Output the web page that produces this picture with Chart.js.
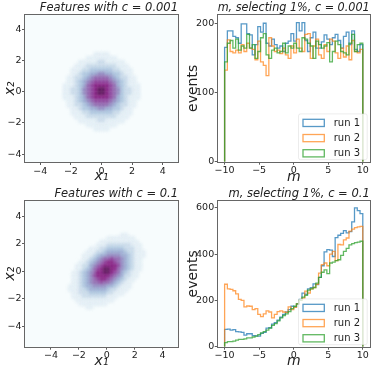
<!DOCTYPE html>
<html>
<head>
<meta charset="utf-8">
<script src="https://cdn.jsdelivr.net/npm/chart.js@4.4.1/dist/chart.umd.min.js"></script>
<style>
  html, body { margin: 0; padding: 0; background: #fff; }
  #wrap { position: relative; width: 374px; height: 373px; overflow: hidden; }
  .panel { position: absolute; }
</style>
</head>
<body>
<div id="wrap">
  <canvas class="panel" id="featLowChart" width="187" height="186" style="left:0;top:0"></canvas>
  <canvas class="panel" id="mLowChart" width="187" height="186" style="left:187px;top:0"></canvas>
  <canvas class="panel" id="featHighChart" width="187" height="187" style="left:0;top:186px"></canvas>
  <canvas class="panel" id="mHighChart" width="187" height="187" style="left:187px;top:186px"></canvas>
</div>
<script>
'use strict';

//***********data***********
const runLabels = ['run 1', 'run 2', 'run 3'];

// m histograms: 50 bins of 0.4 from -10 to 10
const mBinStart = -10;
const mBinWidth = 0.4;
const lowRun1 = [166, 190, 190, 182, 180, 172, 200, 200, 186, 184, 155, 170, 196, 188, 201, 172, 168, 178, 170, 165,
  168, 160, 172, 175, 186, 175, 202, 190, 202, 176, 160, 180, 188, 165, 165, 174, 184, 178, 170, 180,
  185, 176, 165, 182, 188, 170, 190, 163, 160, 170];
const lowRun2 = [133, 177, 160, 158, 162, 158, 170, 160, 172, 165, 163, 148, 175, 145, 140, 125, 180, 168, 160, 162,
  157, 165, 155, 150, 168, 158, 178, 165, 160, 185, 186, 150, 168, 178, 155, 150, 170, 160, 178, 175,
  158, 150, 165, 152, 168, 148, 176, 160, 158, 163];
const lowRun3 = [145, 172, 176, 165, 178, 162, 168, 165, 185, 165, 170, 150, 160, 180, 186, 155, 150, 162, 165, 158,
  160, 172, 158, 168, 165, 172, 165, 160, 180, 178, 172, 168, 150, 175, 170, 165, 168, 173, 145, 160,
  175, 170, 160, 158, 155, 172, 185, 160, 170, 172];
const highRun1 = [75, 76, 72, 74, 65, 64, 62, 50, 56, 56, 48, 47, 46, 58, 62, 80, 82, 98, 104, 115,
  128, 140, 150, 160, 175, 172, 185, 205, 232, 226, 250, 255, 272, 268, 300, 350, 410, 420, 418, 390,
  472, 482, 490, 502, 492, 498, 540, 600, 588, 575];
const highRun2 = [270, 250, 248, 242, 228, 205, 200, 172, 176, 175, 160, 165, 140, 130, 142, 155, 150, 125, 140, 152,
  155, 150, 148, 172, 160, 170, 185, 200, 210, 240, 232, 250, 256, 270, 318, 355, 362, 350, 400, 412,
  372, 442, 440, 462, 470, 500, 508, 515, 518, 520];
const highRun3 = [18, 22, 22, 24, 28, 32, 32, 34, 38, 38, 42, 46, 52, 60, 65, 72, 80, 92, 100, 112,
  125, 135, 142, 152, 165, 175, 185, 200, 214, 222, 245, 250, 256, 275, 300, 322, 332, 316, 362, 366,
  372, 376, 395, 412, 425, 440, 446, 450, 452, 456];

// tick labels
const featTicks = [-4, -2, 0, 2, 4];
const mTicks = [-10, -5, 0, 5, 10];
const lowCountTicks = [0, 100, 200];
const highCountTicks = [0, 200, 400, 600];

// feature densities: cells of 0.25 from -3 to 3 (top row first), shade level 0..9
const cellStart = -3;
const cellSize = 0.25;
const featLow = [
  '000000000000000000000000',
  '000000000000000000000000',
  '000000000011110000000000',
  '000000001111111100000000',
  '000000111112211111000000',
  '000001112222222211100000',
  '000011122333333221110000',
  '000011233445544332110000',
  '000112234566665432211000',
  '000112345677776543211000',
  '001112346788887643211100',
  '001122356789987653221100',
  '001122356789987653221100',
  '001112346788887643211100',
  '000112345677776543211000',
  '000112234566665432211000',
  '000011233445544332110000',
  '000011122333333221110000',
  '000001112222222211100000',
  '000000111112211111000000',
  '000000001111111100000000',
  '000000000011110000000000',
  '000000000000000000000000',
  '000000000000000000000000'
];
const featHigh = [
  '000000000000000000000000',
  '000000000000000011000000',
  '000000000000111111110000',
  '000000000011111111111000',
  '000000000111222222211100',
  '000000011122333332221100',
  '000000111223444443221110',
  '000001112344555544321110',
  '000001123456676654321100',
  '000011234567887654321100',
  '000112245678888754321100',
  '000112346789988654321100',
  '001123456889987643211000',
  '001123457888876542211000',
  '001123456788765432110000',
  '001123456676654321100000',
  '011123445555443211100000',
  '011122344444322111000000',
  '001122233333221110000000',
  '001112222222111000000000',
  '000111111111110000000000',
  '000011111111000000000000',
  '000000110000000000000000',
  '000000000000000000000000'
];

//***********styling***********
const fontFamily = '"DejaVu Sans", sans-serif';
const inkColor = '#222';
const runColors = ['rgba(31,119,180,0.75)', 'rgba(255,127,14,0.7)', 'rgba(44,160,44,0.75)'];
const bupu = ['#f7fcfd', '#e0ecf4', '#bfd3e6', '#9ebcda', '#8c96c6', '#8c6bb1', '#88419d', '#810f7c', '#4d004b'];

function hexToRgb(h) {
  return [1, 3, 5].map(i => parseInt(h.substr(i, 2), 16));
}

// BuPu colour map, t from 0 to 1
function shade(t) {
  const pos = Math.max(0, Math.min(1, t)) * 8;
  const i = Math.min(7, Math.floor(pos));
  const f = pos - i;
  const a = hexToRgb(bupu[i]);
  const b = hexToRgb(bupu[i + 1]);
  const c = a.map((v, k) => Math.round(v + (b[k] - v) * f));
  return 'rgb(' + c.join(',') + ')';
}

function fmtTick(v) {
  return v < 0 ? '\u2212' + Math.abs(v) : String(v);
}

// outline of a step histogram
function stepPoints(counts) {
  const pts = [{x: mBinStart, y: 0}];
  counts.forEach((c, i) => {
    pts.push({x: mBinStart + i * mBinWidth, y: c});
    pts.push({x: mBinStart + (i + 1) * mBinWidth, y: c});
  });
  pts.push({x: mBinStart + counts.length * mBinWidth, y: 0});
  return pts;
}

function cellPoints(rows) {
  const pts = [];
  rows.forEach((row, r) => {
    for (let j = 0; j < row.length; j++) {
      const v = Number(row[j]);
      if (v > 0) {
        pts.push({x: cellStart + (j + 0.5) * cellSize, y: -cellStart - (r + 0.5) * cellSize, v: v});
      }
    }
  });
  return pts;
}

// plot background + spines
const framePlugin = {
  id: 'frame',
  beforeDatasetsDraw(chart, args, opts) {
    if (!opts.fill) return;
    const a = chart.chartArea;
    chart.ctx.save();
    chart.ctx.fillStyle = opts.fill;
    chart.ctx.fillRect(a.left, a.top, a.right - a.left, a.bottom - a.top);
    chart.ctx.restore();
  },
  // soften the cell edges a little, like the fine binning of the original
  beforeDatasetDraw(chart, args, opts) {
    if (opts.blur) chart.ctx.filter = 'blur(' + opts.blur + 'px)';
  },
  afterDatasetDraw(chart, args, opts) {
    chart.ctx.filter = 'none';
  },
  afterDatasetsDraw(chart) {
    const a = chart.chartArea;
    const ctx = chart.ctx;
    ctx.save();
    ctx.strokeStyle = '#666';
    ctx.lineWidth = 1;
    ctx.strokeRect(Math.round(a.left) - 0.5, Math.round(a.top) - 0.5, Math.round(a.right - a.left) + 1, Math.round(a.bottom - a.top) + 1);
    ctx.restore();
  }
};

// legend in the lower right corner, drawn over the lines
const runLegendPlugin = {
  id: 'runLegend',
  afterDatasetsDraw(chart, args, opts) {
    if (!opts.show) return;
    const a = chart.chartArea;
    const ctx = chart.ctx;
    const rowGap = 15.2;
    const boxLeft = a.right - 66.7;
    const lastY = a.bottom - 8.4;
    const n = runLabels.length;
    const top = lastY - (n - 1) * rowGap - 9;
    ctx.save();
    ctx.fillStyle = 'rgba(255,255,255,0.8)';
    ctx.strokeStyle = 'rgba(215,215,215,0.6)';
    ctx.lineWidth = 0.8;
    ctx.beginPath();
    ctx.roundRect(boxLeft - 4.5, top, a.right - 2.5 - (boxLeft - 4.5), a.bottom - 2 - top, 2);
    ctx.fill();
    ctx.stroke();
    ctx.font = '10px ' + fontFamily;
    ctx.textBaseline = 'middle';
    ctx.textAlign = 'left';
    runLabels.forEach((label, i) => {
      const y = lastY - (n - 1 - i) * rowGap;
      ctx.strokeStyle = runColors[i];
      ctx.lineWidth = 1.3;
      ctx.strokeRect(boxLeft, y - 3.6, 21.3, 7.2);
      ctx.fillStyle = inkColor;
      ctx.fillText(label, boxLeft + 30.7, y + 0.5);
    });
    ctx.restore();
  }
};

function axis(cfg) {
  return {
    type: 'linear',
    position: cfg.position,
    min: cfg.min,
    max: cfg.max,
    afterBuildTicks: s => { s.ticks = cfg.ticks.map(v => ({value: v})); },
    afterFit: s => {
      if (cfg.position === 'bottom') s.height = cfg.size;
      else s.width = cfg.size;
    },
    grid: {display: true, drawOnChartArea: false, drawTicks: true, tickLength: 3, tickColor: '#333', tickWidth: 0.8},
    border: {display: false},
    ticks: {
      font: {family: fontFamily, size: 9.5},
      color: inkColor,
      padding: 0.5,
      maxRotation: 0,
      autoSkip: false,
      callback: fmtTick
    },
    title: {
      display: true,
      text: cfg.title,
      color: inkColor,
      font: {family: fontFamily, size: 14, style: cfg.italic ? 'italic' : 'normal'},
      padding: cfg.titlePad
    }
  };
}

function titleOpts(text) {
  return {
    display: true,
    text: text,
    align: 'end',
    fullSize: false,
    color: inkColor,
    font: {family: fontFamily, size: 11.5, style: 'italic', weight: 'normal', lineHeight: 1.2},
    padding: {top: 1.2, bottom: 0}
  };
}

function featChart(id, rows, title, xr, yr, canvasH, bottom) {
  const cells = cellPoints(rows);
  new Chart(document.getElementById(id), {
    type: 'scatter',
    data: {
      datasets: [{
        data: cells,
        pointStyle: 'rect',
        pointBorderWidth: 0,
        pointBackgroundColor: ctx => shade(ctx.raw.v * 0.11),
        pointRadius: ctx => {
          const sx = ctx.chart.scales.x;
          const sy = ctx.chart.scales.y;
          const w = Math.abs(sx.getPixelForValue(cellSize) - sx.getPixelForValue(0));
          const h = Math.abs(sy.getPixelForValue(cellSize) - sy.getPixelForValue(0));
          return (Math.max(w, h) + 0.7) / Math.SQRT2;
        }
      }]
    },
    options: {
      responsive: false,
      animation: false,
      events: [],
      layout: {padding: {left: 0, right: 9, top: 0, bottom: 0}},
      plugins: {
        legend: {display: false},
        tooltip: {enabled: false},
        title: titleOpts(title),
        frame: {fill: shade(0), blur: 1.6},
        runLegend: {show: false}
      },
      scales: {
        x: axis({position: 'bottom', min: xr[0], max: xr[1], ticks: featTicks, size: canvasH - bottom,
          title: 'x\u2081', italic: true, titlePad: {top: 0, bottom: canvasH === 186 ? 0.8 : 3.2}}),
        y: axis({position: 'left', min: yr[0], max: yr[1], ticks: featTicks, size: 25,
          title: 'x\u2082', italic: true, titlePad: {top: 1.5, bottom: 0}})
      }
    },
    plugins: [framePlugin, runLegendPlugin]
  });
}

function mChart(id, runs, title, yMax, yTicks, canvasH, bottom) {
  new Chart(document.getElementById(id), {
    type: 'line',
    data: {
      datasets: runs.map((counts, i) => ({
        label: runLabels[i],
        data: stepPoints(counts),
        borderColor: runColors[i],
        borderWidth: 1.3,
        pointRadius: 0,
        fill: false,
        tension: 0,
        order: runs.length - i
      }))
    },
    options: {
      responsive: false,
      animation: false,
      events: [],
      layout: {padding: {left: 0, right: 4.3, top: 0, bottom: 0}},
      plugins: {
        legend: {display: false},
        tooltip: {enabled: false},
        title: titleOpts(title),
        frame: {fill: null, blur: 0},
        runLegend: {show: true}
      },
      scales: {
        x: axis({position: 'bottom', min: -11, max: 11, ticks: mTicks, size: canvasH - bottom,
          title: 'm', italic: true, titlePad: {top: 0, bottom: canvasH === 186 ? 0.6 : 2.8}}),
        y: axis({position: 'left', min: 0, max: yMax, ticks: yTicks, size: 30.7,
          title: 'events', italic: false, titlePad: {top: -2.5, bottom: 0}})
      }
    },
    plugins: [framePlugin, runLegendPlugin]
  });
}

featChart('featLowChart', featLow, 'Features with c = 0.001', [-5, 5], [-4.5, 4.9], 186, 162);
mChart('mLowChart', [lowRun1, lowRun2, lowRun3], 'm, selecting 1%, c = 0.001', 213, lowCountTicks, 186, 161.7);
featChart('featHighChart', featHigh, 'Features with c = 0.1', [-5.86, 5.1], [-5.5, 5.1], 187, 160.7);
mChart('mHighChart', [highRun1, highRun2, highRun3], 'm, selecting 1%, c = 0.1', 630, highCountTicks, 187, 160.7);
</script>
</body>
</html>
